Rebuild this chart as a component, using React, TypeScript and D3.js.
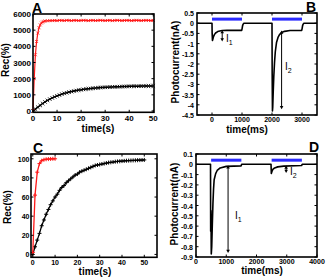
import React from 'react';
import * as d3 from 'd3';

// ---------- Data ----------
// Panel A (Rec % vs time s)
const aRedTime = [0, 0.5, 1, 1.5, 2, 2.5, 3, 3.5, 4, 4.5, 5, 6, 7, 8, 9, 10, 11, 12, 13, 14, 15, 16, 17, 18, 19, 20, 21, 22, 23, 24, 25, 26, 27, 28, 29, 30, 31, 32, 33, 34, 35, 36, 37, 38, 39, 40, 41, 42, 43, 44, 45, 46, 47, 48, 49, 50];
const aRedValue = [0, 2000, 3480, 4300, 4820, 5150, 5330, 5440, 5500, 5540, 5570, 5580, 5590, 5595, 5600, 5590, 5605, 5600, 5595, 5610, 5600, 5590, 5605, 5600, 5595, 5600, 5610, 5600, 5590, 5600, 5605, 5595, 5600, 5610, 5600, 5595, 5600, 5605, 5590, 5600, 5610, 5600, 5595, 5600, 5605, 5600, 5590, 5600, 5610, 5600, 5595, 5600, 5605, 5600, 5595, 5600];
const aBlackTime = [0, 1, 2, 3, 4, 5, 6, 7, 8, 9, 10, 11, 12, 13, 14, 15, 16, 17, 18, 19, 20, 21, 22, 23, 24, 25, 26, 27, 28, 29, 30, 31, 32, 33, 34, 35, 36, 37, 38, 39, 40, 41, 42, 43, 44, 45, 46, 47, 48, 49, 50];
const aBlackValue = [0, 120, 235, 345, 465, 560, 655, 735, 810, 875, 935, 985, 1045, 1090, 1125, 1170, 1200, 1235, 1265, 1295, 1310, 1340, 1355, 1375, 1390, 1405, 1420, 1435, 1450, 1460, 1465, 1475, 1480, 1490, 1495, 1500, 1505, 1510, 1515, 1520, 1525, 1530, 1530, 1535, 1535, 1540, 1540, 1545, 1545, 1550, 1550];
const aXTicks = [0, 10, 20, 30, 40, 50];
const aYTicks = [0, 1000, 2000, 3000, 4000, 5000, 6000];

// Panel B (photocurrent nA vs time ms)
const bTime = [-500, 0, 5, 15, 30, 50, 80, 120, 190, 260, 340, 500, 990, 1005, 1020, 1040, 1070, 2000, 2006, 2015, 2025, 2040, 2060, 2085, 2110, 2150, 2200, 2250, 2320, 2420, 2600, 2990, 3005, 3020, 3040, 3070, 3500];
const bCurrent = [0, 0, -0.5, -0.85, -0.78, -0.66, -0.56, -0.48, -0.41, -0.38, -0.36, -0.35, -0.35, -0.25, -0.12, -0.04, 0, 0, -2.5, -4.3, -4.1, -3.4, -2.6, -1.9, -1.4, -0.95, -0.7, -0.56, -0.46, -0.4, -0.36, -0.35, -0.25, -0.12, -0.04, 0, 0];
const bLightStart = [0, 2000];
const bLightEnd = [1000, 3000];
const bLightLevel = 0.2;
const bXTicks = [0, 1000, 2000, 3000];
const bYTicks = [0.5, 0, -0.5, -1, -1.5, -2, -2.5, -3, -3.5, -4, -4.5];

// Panel C (normalised Rec %)
const cRedTime = [0, 1, 2, 3, 4, 5, 6, 7, 8, 9, 10];
const cRedValue = [2, 62, 86, 95, 98, 99, 99.5, 99.7, 99.8, 100, 100];
const cBlackTime = [0, 1, 2, 3, 4, 5, 6, 7, 8, 9, 10, 11, 12, 13, 14, 15, 16, 17, 18, 19, 20, 21, 22, 23, 24, 25, 26, 27, 28, 29, 30, 31, 32, 33, 34, 35, 36, 37, 38, 39, 40, 41, 42, 43, 44, 45, 46, 47, 48, 49, 50];
const cBlackValue = [0, 8, 15, 22, 30, 36, 42, 47, 52, 56, 60, 63, 67, 70, 72, 75, 77, 79, 81, 83, 84, 86, 87, 88, 89, 90, 91, 92, 93, 93.5, 94, 94.5, 95, 95.5, 96, 96.3, 96.6, 97, 97.2, 97.4, 97.6, 97.8, 98, 98.1, 98.2, 98.3, 98.4, 98.5, 98.6, 98.7, 98.8];
const cXTicks = [0, 10, 20, 30, 40, 50];
const cYTicks = [0, 20, 40, 60, 80, 100];

// Panel D (photocurrent nA vs time ms)
const dTime = [0, 480, 485, 495, 505, 520, 540, 560, 580, 600, 650, 700, 800, 1000, 1490, 1510, 2480, 2490, 2510, 2540, 2600, 2700, 2900, 3490, 3510, 4000];
const dCurrent = [0, 0, -0.65, -0.45, -0.87, -0.8, -0.58, -0.38, -0.24, -0.15, -0.09, -0.06, -0.035, -0.02, -0.015, 0, 0, -0.09, -0.07, -0.05, -0.035, -0.025, -0.018, -0.012, 0, 0];
const dLightStart = [500, 2500];
const dLightEnd = [1500, 3500];
const dLightLevel = 0.04;
const dXTicks = [0, 1000, 2000, 3000, 4000];
const dYTicks = [0.1, 0, -0.1, -0.2, -0.3, -0.4, -0.5, -0.6, -0.7, -0.8, -0.9];

// ---------- Drawing ----------
const FONT = "'Liberation Sans', Arial, sans-serif";
const BLUE = '#2b2bff';
const RED = '#ff1a1a';

type Lin = d3.ScaleLinear<number, number>;

function Frame(props: {
  x: Lin; y: Lin; xTicks: number[]; yTicks: number[];
  xLabel: string; yLabel: string;
  xLabelX: number; xLabelY: number; yLabelX: number; yLabelY: number;
  letter: string; letterX: number; letterY: number;
  xTickY: number; yTickGap: number; tickSize?: number;
}) {
  const { x, y, xTicks, yTicks } = props;
  const [x0, x1] = x.range();
  const [y0, y1] = y.range();
  const fs = props.tickSize ?? 8;
  return (
    <g fontFamily={FONT} fontWeight="bold" fill="#000">
      {xTicks.map((t) => (
        <g key={'x' + t}>
          <line x1={x(t)} x2={x(t)} y1={y0} y2={y0 - 2.5} stroke="#000" strokeWidth={1} />
          <line x1={x(t)} x2={x(t)} y1={y1} y2={y1 + 2.5} stroke="#000" strokeWidth={1} />
          <text x={x(t)} y={props.xTickY} fontSize={fs} textAnchor="middle">{String(t)}</text>
        </g>
      ))}
      {yTicks.map((t) => (
        <g key={'y' + t}>
          <line x1={x0} x2={x0 + 2.5} y1={y(t)} y2={y(t)} stroke="#000" strokeWidth={1} />
          <line x1={x1} x2={x1 - 2.5} y1={y(t)} y2={y(t)} stroke="#000" strokeWidth={1} />
          <text x={x0 - props.yTickGap} y={y(t) + 3} fontSize={fs} textAnchor="end">{String(t)}</text>
        </g>
      ))}
      <rect x={x0} y={y1} width={x1 - x0} height={y0 - y1} fill="none" stroke="#000" strokeWidth={1.6} />
      <text x={props.xLabelX} y={props.xLabelY} fontSize={10} textAnchor="middle">{props.xLabel}</text>
      <text transform={`translate(${props.yLabelX},${props.yLabelY}) rotate(-90)`} fontSize={10} textAnchor="middle">{props.yLabel}</text>
      <text x={props.letterX} y={props.letterY} fontSize={14}>{props.letter}</text>
    </g>
  );
}

function Series(props: { x: Lin; y: Lin; xs: number[]; ys: number[]; color: string; marker: 'x' | '+'; size: number; width: number }) {
  const { x, y, xs, ys, color, size } = props;
  const pts = xs.map((t, i) => [t, ys[i]] as [number, number]);
  const line = d3.line<[number, number]>().x((d) => x(d[0])).y((d) => y(d[1]));
  return (
    <g>
      <path d={line(pts) ?? ''} fill="none" stroke={color} strokeWidth={props.width} />
      {pts.map((p, i) => {
        const cx = x(p[0]);
        const cy = y(p[1]);
        return props.marker === 'x' ? (
          <path key={i} d={`M${cx - size},${cy - size}L${cx + size},${cy + size}M${cx - size},${cy + size}L${cx + size},${cy - size}`} stroke={color} strokeWidth={0.8} />
        ) : (
          <path key={i} d={`M${cx - size},${cy}L${cx + size},${cy}M${cx},${cy - size}L${cx},${cy + size}`} stroke={color} strokeWidth={1} />
        );
      })}
    </g>
  );
}

function Trace(props: { x: Lin; y: Lin; xs: number[]; ys: number[] }) {
  const { x, y, xs, ys } = props;
  const pts = xs.map((t, i) => [t, ys[i]] as [number, number]);
  const line = d3.line<[number, number]>().x((d) => x(d[0])).y((d) => y(d[1]));
  return <path d={line(pts) ?? ''} fill="none" stroke="#000" strokeWidth={1.6} strokeLinejoin="round" />;
}

function Light(props: { x: Lin; y: Lin; starts: number[]; ends: number[]; level: number }) {
  const { x, y } = props;
  return (
    <g>
      {props.starts.map((s, i) => (
        <line key={i} x1={x(s)} x2={x(props.ends[i])} y1={y(props.level)} y2={y(props.level)} stroke={BLUE} strokeWidth={3} />
      ))}
    </g>
  );
}

function DArrow(props: { x: number; yTop: number; yBot: number; label: string; sub: string; lx: number; ly: number }) {
  const h = 3.2;
  const w = 1.8;
  const { x, yTop, yBot } = props;
  return (
    <g>
      <line x1={x} x2={x} y1={yTop + h * 0.6} y2={yBot - h * 0.6} stroke="#000" strokeWidth={1} />
      <path d={`M${x},${yTop}L${x - w},${yTop + h}L${x + w},${yTop + h}Z`} fill="#000" />
      <path d={`M${x},${yBot}L${x - w},${yBot - h}L${x + w},${yBot - h}Z`} fill="#000" />
      <text x={props.lx} y={props.ly} fontSize={10} fontFamily={FONT} fill="#000">
        {props.label}
        <tspan dy={2.5} fontSize={7} fill="#000">{props.sub}</tspan>
      </text>
    </g>
  );
}

export default function App() {
  const xA = d3.scaleLinear().domain([0, 50.3]).range([33, 154]);
  const yA = d3.scaleLinear().domain([-80, 6000]).range([112.3, 14]);
  const xB = d3.scaleLinear().domain([-500, 3500]).range([197, 317]);
  const yB = d3.scaleLinear().domain([-4.5, 0.5]).range([115, 13]);
  const xC = d3.scaleLinear().domain([-0.8, 55.7]).range([31, 157]);
  const yC = d3.scaleLinear().domain([-3, 105]).range([257.3, 154]);
  const xD = d3.scaleLinear().domain([0, 4000]).range([196, 317]);
  const yD = d3.scaleLinear().domain([-0.9, 0.1]).range([257, 154]);

  return (
    <svg width={328} height={278} style={{ position: 'absolute', left: 0, top: 0, background: '#fff' }}>
      {/* Panel A */}
      <Series x={xA} y={yA} xs={aBlackTime} ys={aBlackValue} color="#000" marker="x" size={1.8} width={1.5} />
      <Series x={xA} y={yA} xs={aRedTime} ys={aRedValue} color={RED} marker="x" size={1.5} width={1.2} />
      <Frame x={xA} y={yA} xTicks={aXTicks} yTicks={aYTicks} xLabel="time(s)" yLabel="Rec(%)"
        xLabelX={98} xLabelY={131.5} yLabelX={9} yLabelY={60} letter="A" letterX={32} letterY={13}
        xTickY={120.5} yTickGap={2} />

      {/* Panel B */}
      <Light x={xB} y={yB} starts={bLightStart} ends={bLightEnd} level={bLightLevel} />
      <Trace x={xB} y={yB} xs={bTime} ys={bCurrent} />
      <DArrow x={xB(340)} yTop={yB(-0.34)} yBot={yB(-0.9)} label="I" sub="1" lx={226} ly={42} />
      <DArrow x={xB(2320)} yTop={yB(-0.36)} yBot={yB(-4.22)} label="I" sub="2" lx={285} ly={70} />
      <Frame x={xB} y={yB} xTicks={bXTicks} yTicks={bYTicks} xLabel="time(ms)" yLabel="Photocurrent(nA)"
        xLabelX={247} xLabelY={132.5} yLabelX={179} yLabelY={62} letter="B" letterX={306} letterY={12}
        xTickY={122} yTickGap={3} tickSize={7} />

      {/* Panel C */}
      <Series x={xC} y={yC} xs={cBlackTime} ys={cBlackValue} color="#000" marker="+" size={2} width={1.3} />
      <Series x={xC} y={yC} xs={cRedTime} ys={cRedValue} color={RED} marker="+" size={2} width={1.3} />
      <Frame x={xC} y={yC} xTicks={cXTicks} yTicks={cYTicks} xLabel="time(s)" yLabel="Rec(%)"
        xLabelX={95} xLabelY={275} yLabelX={11} yLabelY={207} letter="C" letterX={33} letterY={153}
        xTickY={264.5} yTickGap={1.5} tickSize={7} />

      {/* Panel D */}
      <Light x={xD} y={yD} starts={dLightStart} ends={dLightEnd} level={dLightLevel} />
      <Trace x={xD} y={yD} xs={dTime} ys={dCurrent} />
      <DArrow x={xD(1060)} yTop={yD(-0.01)} yBot={yD(-0.86)} label="I" sub="1" lx={235} ly={219} />
      <DArrow x={xD(2980)} yTop={yD(-0.012)} yBot={yD(-0.085)} label="I" sub="2" lx={290} ly={175} />
      <Frame x={xD} y={yD} xTicks={dXTicks} yTicks={dYTicks} xLabel="time(ms)" yLabel="Photocurrent(nA)"
        xLabelX={262} xLabelY={274} yLabelX={178} yLabelY={204} letter="D" letterX={309} letterY={152}
        xTickY={263.5} yTickGap={3} tickSize={7} />
    </svg>
  );
}
